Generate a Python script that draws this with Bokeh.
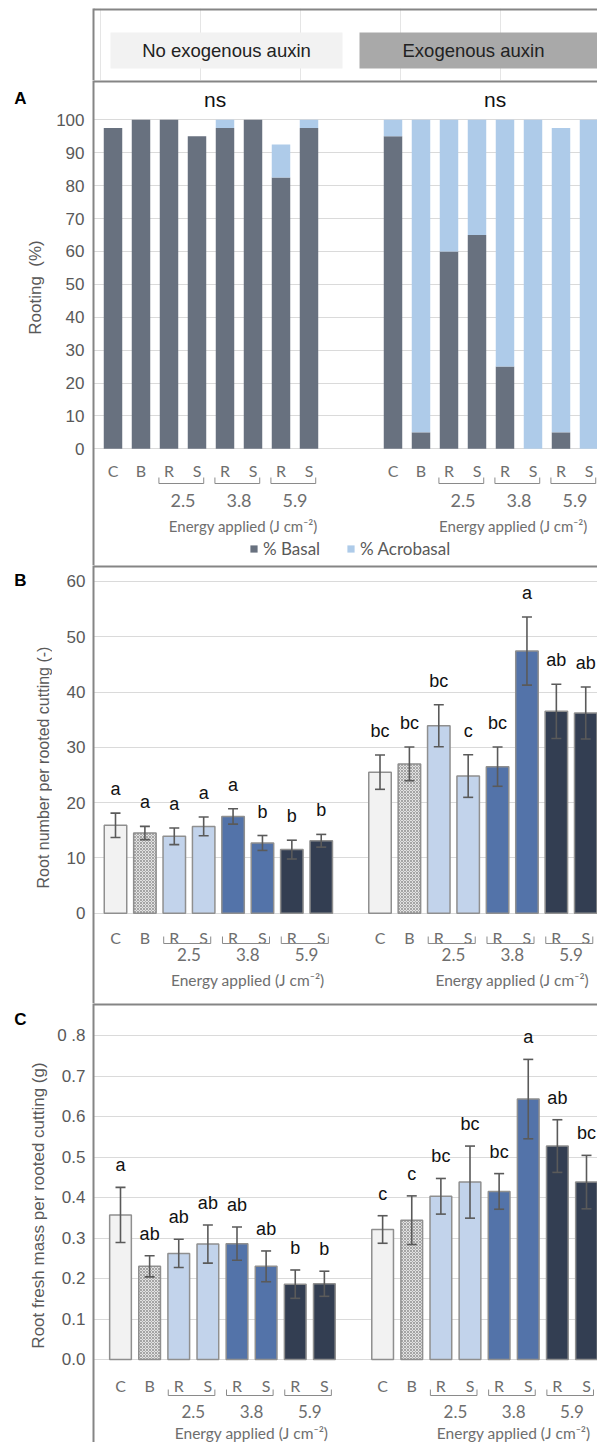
import numpy as np
from bokeh.plotting import figure
from bokeh.layouts import column, row
from bokeh.models import (Range1d, FixedTicker, ColumnDataSource, Whisker, TeeHead,
                          PrintfTickFormatter)
from bokeh.core.properties import value
from bokeh.embed import file_html
from bokeh.resources import INLINE

# ---------------- data ----------------
groups = ["No exogenous auxin", "Exogenous auxin"]
treatments = ["C", "B", "R", "S", "R", "S", "R", "S"]
energies = ["2.5", "3.8", "5.9"]
energy_title = "Energy applied (J cm\u207b\u00b2)"
panel_letters = ["A", "B", "C"]
y_titles = ["Rooting \u00a0(%)", "Root number per rooted cutting (-)",
            "Root fresh mass per rooted cutting (g)"]

# A: rooting (%)
basal_no = [97.5, 100, 100, 95, 97.5, 100, 82.5, 97.5]
acro_no = [0, 0, 0, 0, 2.5, 0, 10, 2.5]
basal_aux = [95, 5, 60, 65, 25, 0, 5, 0]
acro_aux = [5, 95, 40, 35, 75, 100, 92.5, 100]
sig_a = ["ns", "ns"]

# B: root number per rooted cutting
num_no = [15.9, 14.5, 13.9, 15.7, 17.5, 12.7, 11.5, 13.1]
num_no_err = [2.2, 1.2, 1.5, 1.7, 1.4, 1.35, 1.7, 1.15]
num_aux = [25.5, 27.0, 33.9, 24.8, 26.5, 47.4, 36.5, 36.2]
num_aux_err = [3.1, 3.05, 3.8, 3.85, 3.55, 6.15, 4.9, 4.7]
num_no_let = ["a", "a", "a", "a", "a", "b", "b", "b"]
num_aux_let = ["bc", "bc", "bc", "c", "bc", "a", "ab", "ab"]

# C: root fresh mass per rooted cutting (g)
mass_no = [0.357, 0.230, 0.262, 0.285, 0.286, 0.230, 0.186, 0.187]
mass_no_err = [0.068, 0.026, 0.035, 0.047, 0.041, 0.038, 0.035, 0.031]
mass_aux = [0.321, 0.344, 0.403, 0.438, 0.415, 0.643, 0.527, 0.438]
mass_aux_err = [0.034, 0.060, 0.044, 0.089, 0.044, 0.098, 0.065, 0.066]
mass_no_let = ["a", "ab", "ab", "ab", "ab", "ab", "b", "b"]
mass_aux_let = ["c", "c", "bc", "bc", "bc", "a", "ab", "bc"]

# ---------------- style ----------------
LW = 52            # width of the left strip (panel letters, axis titles)
W = 597 - LW       # width of the panel figures
LB = 93 - LW       # left border inside a panel figure (tick labels)
SANS = "Liberation Sans"
CAL = "Lato"
GRAY = "#595959"
LGRAY = "#6e6e6e"
BORDER = "#858585"
GRID = "#dadada"
BASAL = "#68717f"
ACRO = "#aecbe9"
bar_fill = ["#f2f2f2", "#e2e2e2", "#c2d3eb", "#c2d3eb", "#5373a9", "#5373a9", "#333e52", "#333e52"]
bar_hatch = [" ", "diagonal_cross", " ", " ", " ", " ", " ", " "]


def geom(px_first, slot, y_zero, ppu, top, bottom):
    xr = Range1d((93 - px_first) / slot, (597 - px_first) / slot)
    yr = Range1d((y_zero - bottom) / ppu, (y_zero - top) / ppu)
    fy = lambda py: (y_zero - py) / ppu
    return xr, yr, fy


def style_yaxis(ax):
    ax.axis_line_color = BORDER
    ax.axis_line_width = 2
    ax.major_tick_line_color = None
    ax.minor_tick_line_color = None
    ax.major_tick_out = 0
    ax.major_tick_in = 0
    ax.minor_tick_out = 0
    ax.minor_tick_in = 0
    ax.major_label_text_font = SANS
    ax.major_label_text_color = GRAY


def make_fig(height, xr, yr, top=0):
    p = figure(width=W, height=height, x_range=xr, y_range=yr, title=None,
               output_backend="svg", toolbar_location=None, tools="",
               x_axis_location=None, min_border_left=LB, min_border_right=0,
               min_border_top=top, min_border_bottom=0)
    p.outline_line_color = None
    p.background_fill_color = "white"
    p.border_fill_color = "white"
    style_yaxis(p.yaxis[0])
    for g in p.xgrid:
        g.visible = False
    # divider line along the top of the panel
    p.segment(x0=[xr.start], y0=[yr.end], x1=[xr.end], y1=[yr.end],
              line_color=BORDER, line_width=4)
    return p


def set_axis(p, ticks, size, standoff, fmt=None, overrides=None):
    t = FixedTicker(ticks=ticks)
    p.yaxis.ticker = t
    p.ygrid.ticker = t
    p.ygrid.grid_line_color = GRID
    p.ygrid.grid_line_width = 1
    p.yaxis.major_label_text_font_size = size
    p.yaxis.major_label_standoff = standoff
    if fmt is not None:
        p.yaxis.formatter = fmt
    if overrides is not None:
        p.yaxis.major_label_overrides = overrides


def cat_labels(p, positions, y_let, y_br, y_br_top, y_num, y_en, let_size, num_size, en_size,
               en_shift=(0.0, 0.0)):
    r_idx = [i for i, t in enumerate(treatments) if t == "R"]
    s_idx = [i for i, t in enumerate(treatments) if t == "S"]
    for k, pos in enumerate(positions):
        pos = np.asarray(pos, dtype=float)
        p.text(x=pos, y=[y_let] * len(pos), text=treatments, text_align="center",
               text_baseline="middle", text_font=value(CAL), text_font_size=let_size,
               text_color=LGRAY)
        rx = pos[r_idx]
        sx = pos[s_idx]
        l = rx - 0.36
        r = sx + 0.24
        p.segment(x0=l, y0=[y_br] * 3, x1=r, y1=[y_br] * 3, line_color="#8a8a8a", line_width=1)
        p.segment(x0=l, y0=[y_br] * 3, x1=l, y1=[y_br_top] * 3, line_color="#8a8a8a", line_width=1)
        p.segment(x0=r, y0=[y_br] * 3, x1=r, y1=[y_br_top] * 3, line_color="#8a8a8a", line_width=1)
        p.text(x=(rx + sx) / 2, y=[y_num] * 3, text=energies, text_align="center",
               text_baseline="middle", text_font=value(CAL), text_font_size=num_size,
               text_color=LGRAY)
        p.text(x=[(rx[0] + sx[-1]) / 2 + en_shift[k]], y=[y_en], text=[energy_title],
               text_align="center", text_baseline="middle", text_font=value(CAL),
               text_font_size=en_size, text_color=LGRAY)


def bars(p, pos, means, errs, letters, width, let_size, let_off):
    src = ColumnDataSource(dict(
        x=list(pos), top=means,
        upper=[m + e for m, e in zip(means, errs)],
        lower=[m - e for m, e in zip(means, errs)],
        fill=bar_fill, hatch=bar_hatch, let=letters))
    p.vbar(x="x", top="top", width=width, source=src, fill_color="fill",
           line_color="#8f8f8f", line_width=1.5, hatch_pattern="hatch",
           hatch_color="#8a8a8a", hatch_scale=3, hatch_weight=0.7)
    p.add_layout(Whisker(source=src, base="x", upper="upper", lower="lower",
                         line_color="#5a5a5a", line_width=1.6, level="overlay",
                         upper_head=TeeHead(size=10, line_color="#5a5a5a", line_width=1.6),
                         lower_head=TeeHead(size=10, line_color="#5a5a5a", line_width=1.6)))
    p.text(x="x", y="upper", text="let", source=src, text_align="center",
           text_baseline="middle", y_offset=let_off, text_font=value(SANS),
           text_font_size=let_size, text_color="#111111")


n = len(treatments)

# ---------------- left strip: panel letters and y-axis titles ----------------
left = figure(width=LW, height=1442, x_range=Range1d(0, LW), y_range=Range1d(1442, 0),
              title=None, output_backend="svg", toolbar_location=None, tools="",
              x_axis_location=None, y_axis_location=None, min_border_left=0,
              min_border_right=0, min_border_top=0, min_border_bottom=0)
left.outline_line_color = None
left.xgrid.visible = False
left.ygrid.visible = False
left.text(x=[20, 20, 20], y=[98, 580, 1019], text=panel_letters, text_align="center",
          text_baseline="middle", text_font=value(SANS), text_font_size="17px",
          text_font_style="bold", text_color="black")
left.text(x=[35, 43, 38], y=[287, 767, 1205], text=y_titles, angle=np.pi / 2,
          text_align="center", text_baseline="middle", text_font=value(SANS),
          text_font_size=["17px", "16px", "17px"], text_color=GRAY)

# ---------------- header ----------------
h = figure(width=W, height=80, x_range=Range1d(93, 597), y_range=Range1d(80, 8), title=None,
           output_backend="svg", toolbar_location=None, tools="", x_axis_location=None,
           min_border_left=LB, min_border_right=0, min_border_top=8, min_border_bottom=0)
h.outline_line_color = None
style_yaxis(h.yaxis[0])
h.yaxis.ticker = FixedTicker(ticks=[])
h.yaxis.major_label_text_font_size = "0px"
h.yaxis.major_label_standoff = 0
h.ygrid.visible = False
h.segment(x0=[93], y0=[8], x1=[597], y1=[8], line_color=BORDER, line_width=4)
h.quad(left=[110, 359], right=[342, 600], top=[32, 32], bottom=[68, 68],
       fill_color=["#f2f2f2", "#a9a9a9"], line_color=None)
h.text(x=[226, 473], y=[50, 50], text=groups, text_align="center", text_baseline="middle",
       text_font=value(SANS), text_font_size="18.5px", text_color="#222222")

# ---------------- panel A ----------------
xr, yr, fy = geom(112.5, 28.0, 448.3, 3.29, 80, 565)
pa = make_fig(485, xr, yr)
set_axis(pa, list(range(0, 101, 10)), "17px", 9)
xa_l = np.arange(n)
xa_r = xa_l + n + 2
srcA = ColumnDataSource(dict(x=list(xa_l) + list(xa_r), basal=basal_no + basal_aux,
                             acro=acro_no + acro_aux))
pa.vbar_stack(["basal", "acro"], x="x", width=0.66, source=srcA,
              fill_color=[BASAL, ACRO], line_color=None,
              legend_label=["% Basal", "% Acrobasal"])
pa.text(x=[xa_l.mean() + 0.15, xa_r.mean() + 0.15], y=[fy(99)] * 2, text=sig_a,
        text_align="center", text_baseline="middle", text_font=value(SANS),
        text_font_size="21px", text_color="#111111")
cat_labels(pa, [xa_l, xa_r], fy(470), fy(483), fy(477), fy(500), fy(525), "16px", "18px", "15px",
           en_shift=(0.15, -0.2))
lg = pa.legend[0]
lg.location = (156, 6)
lg.orientation = "horizontal"
lg.glyph_width = 9
lg.glyph_height = 9
lg.label_height = 18
lg.label_text_font = CAL
lg.label_text_font_size = "17px"
lg.label_text_color = GRAY
lg.label_standoff = 5
lg.spacing = 26
lg.padding = 0
lg.margin = 0
lg.border_line_color = None
lg.background_fill_alpha = 0

# ---------------- panel B ----------------
xr, yr, fy = geom(115.0, 29.39, 912.7, 5.53, 565, 1003)
pb = make_fig(438, xr, yr)
set_axis(pb, list(range(0, 61, 10)), "17px", 8)
xb_l = np.arange(n)
xb_r = xb_l + n + 1
bars(pb, xb_l, num_no, num_no_err, num_no_let, 0.765, "18px", -24)
bars(pb, xb_r, num_aux, num_aux_err, num_aux_let, 0.765, "18px", -24)
cat_labels(pb, [xb_l, xb_r], fy(936.7), fy(943), fy(936), fy(954), fy(979), "16px", "17px", "15.5px")

# ---------------- panel C ----------------
xr, yr, fy = geom(120.0, 29.125, 1359.0, 405.0, 1003, 1442)
pc = make_fig(439, xr, yr)
c_ticks = [0.0, 0.1, 0.2, 0.3, 0.4, 0.5, 0.6, 0.7, 0.8]
set_axis(pc, c_ticks, "17px", 8, fmt=PrintfTickFormatter(format="%.1f"),
         overrides={0.8: "0 .8"})
xc_l = np.arange(n)
xc_r = xc_l + n + 1
bars(pc, xc_l, mass_no, mass_no_err, mass_no_let, 0.745, "18px", -22)
bars(pc, xc_r, mass_aux, mass_aux_err, mass_aux_let, 0.745, "18px", -22)
cat_labels(pc, [xc_l, xc_r], fy(1385), fy(1395), fy(1389), fy(1411), fy(1432), "16px", "17px", "15.5px")

layout = row(left, column(h, pa, pb, pc, spacing=0), spacing=0)
open("out.html", "w").write(file_html(layout, INLINE))
